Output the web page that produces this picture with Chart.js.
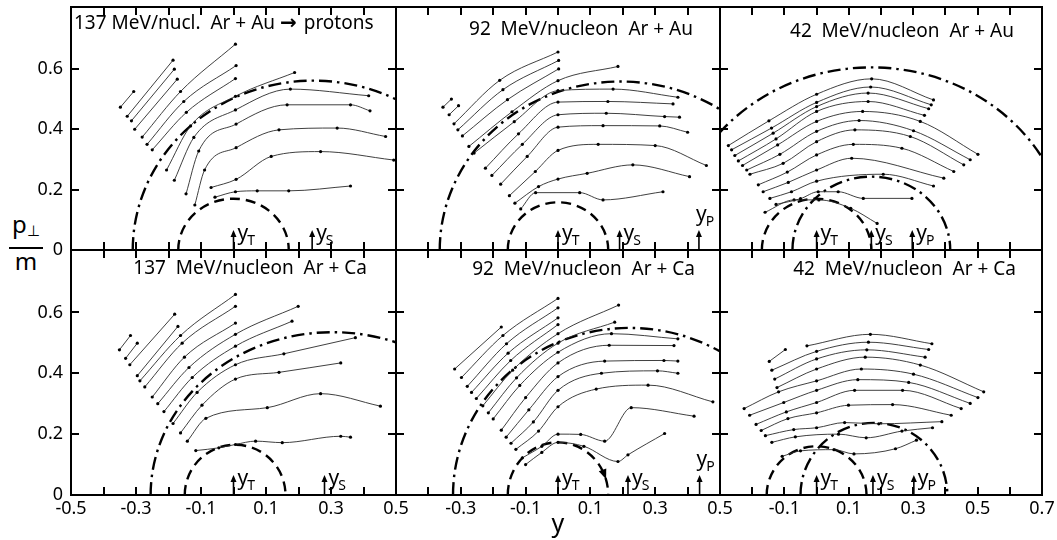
<!DOCTYPE html>
<html>
<head>
<meta charset="utf-8">
<script src="https://cdn.jsdelivr.net/npm/chart.js"></script>
<style>
  body { margin: 0; background: #fff; }
  #fig { position: relative; width: 1057px; height: 540px; overflow: hidden; background: #fff; font-family: "Noto Sans", sans-serif; }
  #fig canvas { position: absolute; }
  .frac { position: absolute; left: 9px; top: 212px; width: 34px; text-align: center; color: #000; font-size: 24px; line-height: 24px; }
  .frac .bar { height: 2px; background: #000; margin: 5px 0 0 0; }
  .frac sub { font-size: 15px; vertical-align: -3px; }
</style>
</head>
<body>
<div id="fig">
  <div class="frac"><div>p<sub>&#x22A5;</sub></div><div class="bar"></div><div>m</div></div>
</div>
<script>
// rapidity range of each column and transverse-momentum range of every panel
const yRanges = [[-0.5, 0.5], [-0.5, 0.5], [-0.3, 0.7]];
const ptMax = 0.805;

const ptTicks = [0, 0.2, 0.4, 0.6];
const yLabelTicks = [
  [-0.5, -0.3, -0.1, 0.1, 0.3, 0.5],
  [-0.3, -0.1, 0.1, 0.3, 0.5],
  [-0.1, 0.1, 0.3, 0.5, 0.7]
];
// minor marks every 0.1 in rapidity
const yMarkTicks = [
  [-0.4, -0.3, -0.2, -0.1, 0, 0.1, 0.2, 0.3, 0.4],
  [-0.4, -0.3, -0.2, -0.1, 0, 0.1, 0.2, 0.3, 0.4],
  [-0.2, -0.1, 0, 0.1, 0.2, 0.3, 0.4, 0.5, 0.6]
];

// titles, split where the reaction arrow goes
const panelTitles = [
  ['137 MeV/nucl.  Ar + Au ', 'protons'],
  ['92  MeV/nucleon  Ar + Au'],
  ['42  MeV/nucleon  Ar + Au'],
  ['137  MeV/nucleon  Ar + Ca'],
  ['92  MeV/nucleon  Ar + Ca'],
  ['42  MeV/nucleon  Ar + Ca']
];

// rapidities of target, source and projectile markers
const yTarget = [0, 0, 0, 0, 0, 0];
const ySource = [0.242, 0.19, 0.17, 0.28, 0.216, 0.175];
const yProjectile = [null, 0.435, 0.297, null, 0.437, 0.302];

// arcs of constant velocity: centre rapidity, half width in y, height in pt/m
const sourceArcs = [
  { cx: 0.246, a: 0.556, b: 0.561 },
  { cx: 0.193, a: 0.558, b: 0.558 },
  { cx: 0.17, a: 0.615, b: 0.605 },
  { cx: 0.305, a: 0.56, b: 0.535 },
  { cx: 0.221, a: 0.545, b: 0.549 },
  null
];
const projectileArcs = [null, null, { cx: 0.17, a: 0.245, b: 0.243 }, null, null, { cx: 0.178, a: 0.228, b: 0.237 }];
const targetArcs = [
  { cx: 0, a: 0.17, b: 0.17 },
  { cx: 0, a: 0.155, b: 0.158 },
  { cx: 0, a: 0.17, b: 0.17 },
  { cx: 0.005, a: 0.155, b: 0.165 },
  { cx: 0, a: 0.155, b: 0.173, arrowAt: 0.144 },
  { cx: 0, a: 0.155, b: 0.16 }
];

// contours of constant invariant cross section, points as [y, pt/m]
const arAu137 = [
  [[-0.348, 0.473], [-0.307, 0.525]],
  [[-0.327, 0.443], [-0.186, 0.629]],
  [[-0.314, 0.428], [-0.182, 0.599]],
  [[-0.304, 0.400], [-0.173, 0.566]],
  [[-0.281, 0.374], [-0.163, 0.525], [0.006, 0.682]],
  [[-0.266, 0.350], [-0.153, 0.492], [0.008, 0.611]],
  [[-0.250, 0.332], [-0.145, 0.456], [0.006, 0.568]],
  [[-0.206, 0.265], [-0.132, 0.411], [0.006, 0.509], [0.188, 0.588]],
  [[-0.182, 0.231], [-0.122, 0.373], [0.006, 0.464], [0.175, 0.533], [0.416, 0.511]],
  [[-0.146, 0.186], [-0.107, 0.328], [0.008, 0.417], [0.165, 0.481], [0.36, 0.481], [0.42, 0.461]],
  [[-0.119, 0.149], [-0.089, 0.265], [0.008, 0.339], [0.140, 0.398], [0.319, 0.404], [0.468, 0.376]],
  [[-0.069, 0.207], [0.008, 0.234], [0.116, 0.310], [0.268, 0.326], [0.493, 0.298]],
  [[-0.057, 0.175], [0.006, 0.193], [0.073, 0.196], [0.170, 0.196], [0.36, 0.212]]
];

const arAu92 = [
  [[-0.355, 0.473], [-0.329, 0.50]],
  [[-0.336, 0.448], [-0.307, 0.478]],
  [[-0.321, 0.418], [-0.18, 0.562], [0, 0.656]],
  [[-0.309, 0.398], [-0.17, 0.531], [0.002, 0.628]],
  [[-0.295, 0.378], [-0.156, 0.498], [0.002, 0.600]],
  [[-0.275, 0.343], [-0.142, 0.458], [0, 0.561], [0.185, 0.608]],
  [[-0.259, 0.321], [-0.135, 0.425], [0, 0.528], [0.17, 0.533], [0.37, 0.506]],
  [[-0.224, 0.271], [-0.122, 0.385], [0, 0.49], [0.154, 0.492], [0.355, 0.484]],
  [[-0.204, 0.247], [-0.11, 0.35], [0, 0.448], [0.149, 0.453], [0.329, 0.442], [0.375, 0.44]],
  [[-0.177, 0.218], [-0.095, 0.31], [0, 0.407], [0.139, 0.412], [0.314, 0.411], [0.40, 0.39]],
  [[-0.150, 0.180], [-0.07, 0.26], [0, 0.33], [0.124, 0.35], [0.30, 0.346], [0.458, 0.28]],
  [[-0.133, 0.155], [-0.06, 0.21], [0, 0.235], [0.09, 0.254], [0.231, 0.282], [0.406, 0.243]],
  [[-0.115, 0.136], [-0.069, 0.19], [0.067, 0.19], [0.139, 0.166], [0.324, 0.193]]
];

const arAu42 = [
  [[-0.274, 0.346], [-0.148, 0.428], [0, 0.516], [0.171, 0.567], [0.363, 0.497]],
  [[-0.264, 0.332], [-0.14, 0.404], [0, 0.489], [0.168, 0.54], [0.356, 0.481]],
  [[-0.254, 0.313], [-0.135, 0.387], [0, 0.475], [0.16, 0.52], [0.348, 0.468]],
  [[-0.243, 0.295], [-0.126, 0.368], [0, 0.459], [0.16, 0.492], [0.335, 0.446]],
  [[-0.23, 0.28], [-0.121, 0.348], [0, 0.426], [0.143, 0.459], [0.322, 0.426], [0.501, 0.317]],
  [[-0.217, 0.265], [-0.114, 0.317], [0, 0.393], [0.132, 0.429], [0.301, 0.395], [0.477, 0.299]],
  [[-0.207, 0.251], [-0.104, 0.287], [0, 0.359], [0.119, 0.398], [0.291, 0.376], [0.457, 0.282]],
  [[-0.181, 0.216], [-0.091, 0.258], [0, 0.315], [0.114, 0.350], [0.265, 0.337], [0.426, 0.26]],
  [[-0.166, 0.193], [-0.088, 0.224], [0, 0.265], [0.109, 0.304], [0.395, 0.238]],
  [[-0.145, 0.171], [-0.078, 0.193], [0, 0.228], [0.207, 0.251], [0.363, 0.212]],
  [[-0.126, 0.151], [-0.05, 0.17], [0.005, 0.193], [0.067, 0.193], [0.145, 0.171], [0.296, 0.171]],
  [[-0.16, 0.125], [-0.07, 0.166], [0.007, 0.166], [0.106, 0.138], [0.188, 0.088]]
];

const arCa137 = [
  [[-0.351, 0.477], [-0.317, 0.524]],
  [[-0.332, 0.449], [-0.296, 0.499]],
  [[-0.319, 0.428], [-0.181, 0.594]],
  [[-0.296, 0.392], [-0.171, 0.554]],
  [[-0.288, 0.375], [-0.163, 0.524], [0.006, 0.659]],
  [[-0.273, 0.355], [-0.158, 0.499], [0.006, 0.620]],
  [[-0.25, 0.322], [-0.151, 0.453], [0.006, 0.565]],
  [[-0.233, 0.300], [-0.137, 0.419], [0.006, 0.528], [0.199, 0.620]],
  [[-0.214, 0.274], [-0.127, 0.386], [0.006, 0.489], [0.18, 0.571]],
  [[-0.186, 0.235], [-0.112, 0.337], [0.006, 0.428], [0.155, 0.464], [0.375, 0.517]],
  [[-0.163, 0.204], [-0.097, 0.295], [0.006, 0.381], [0.140, 0.403], [0.33, 0.434]],
  [[-0.142, 0.177], [-0.085, 0.252], [0.104, 0.287], [0.268, 0.333], [0.452, 0.292]],
  [[-0.116, 0.146], [-0.045, 0.155], [0.006, 0.166], [0.068, 0.177], [0.15, 0.172], [0.33, 0.193], [0.36, 0.19]]
];

const arCa92 = [
  [[-0.319, 0.414], [-0.175, 0.552]],
  [[-0.298, 0.386], [-0.17, 0.524], [0, 0.646]],
  [[-0.28, 0.357], [-0.159, 0.497], [0, 0.615]],
  [[-0.267, 0.337], [-0.154, 0.466], [0, 0.582]],
  [[-0.252, 0.317], [-0.146, 0.442], [0, 0.56]],
  [[-0.232, 0.293], [-0.14, 0.41], [0, 0.53], [0.187, 0.624]],
  [[-0.215, 0.27], [-0.128, 0.385], [0, 0.499], [0.175, 0.568]],
  [[-0.2, 0.25], [-0.118, 0.36], [0, 0.469], [0.165, 0.53], [0.37, 0.513]],
  [[-0.175, 0.213], [-0.1, 0.32], [0, 0.434], [0.158, 0.492], [0.358, 0.491]],
  [[-0.16, 0.19], [-0.09, 0.28], [0, 0.389], [0.144, 0.44], [0.327, 0.442], [0.37, 0.44]],
  [[-0.145, 0.17], [-0.076, 0.24], [0, 0.344], [0.134, 0.40], [0.307, 0.408], [0.37, 0.40]],
  [[-0.13, 0.15], [-0.06, 0.21], [0, 0.29], [0.118, 0.348], [0.278, 0.361], [0.478, 0.306]],
  [[-0.11, 0.122], [-0.05, 0.16], [0, 0.2], [0.07, 0.199], [0.144, 0.177], [0.226, 0.287], [0.42, 0.259]],
  [[-0.1, 0.1], [-0.05, 0.14], [0, 0.173], [0.08, 0.16], [0.185, 0.11], [0.216, 0.132], [0.329, 0.202]]
];

const arCa42 = [
  [[-0.147, 0.439], [-0.097, 0.478]],
  [[-0.03, 0.49], [0.167, 0.528], [0.358, 0.497]],
  [[-0.139, 0.41], [0, 0.472], [0.161, 0.502], [0.348, 0.478]],
  [[-0.13, 0.381], [0, 0.447], [0.156, 0.477], [0.337, 0.453]],
  [[-0.123, 0.353], [0, 0.414], [0.151, 0.453], [0.322, 0.427], [0.519, 0.339]],
  [[-0.225, 0.284], [-0.118, 0.339], [0, 0.375], [0.139, 0.414], [0.301, 0.397], [0.501, 0.32]],
  [[-0.208, 0.262], [-0.102, 0.304], [0, 0.344], [0.128, 0.379], [0.286, 0.37], [0.477, 0.301]],
  [[-0.188, 0.232], [-0.094, 0.273], [0, 0.304], [0.118, 0.344], [0.267, 0.344], [0.449, 0.284]],
  [[-0.172, 0.212], [-0.089, 0.251], [0, 0.27], [0.099, 0.295], [0.236, 0.297], [0.418, 0.262]],
  [[-0.159, 0.195], [-0.071, 0.215], [0, 0.221], [0.087, 0.238], [0.193, 0.234], [0.389, 0.241]],
  [[-0.139, 0.173], [-0.066, 0.191], [0.068, 0.2], [0.154, 0.188], [0.265, 0.21], [0.36, 0.221]],
  [[-0.107, 0.127], [-0.05, 0.145], [0.054, 0.149], [0.116, 0.135], [0.245, 0.152], [0.31, 0.18]]
];

const panelCurves = [arAu137, arAu92, arAu42, arCa137, arCa92, arCa42];

// page layout: plot-area edges in pixels
const colEdges = [71, 396, 720, 1042];
const rowEdges = [7, 250, 495];
const titleAnchor = [
  { x: 3, align: 'left', base: 22 },
  { x: -27, align: 'right', base: 28 },
  { x: -28, align: 'right', base: 30 },
  { x: -29, align: 'right', base: 24 },
  { x: -25, align: 'right', base: 25 },
  { x: -26, align: 'right', base: 25 }
];

const FONT = '"Noto Sans", sans-serif';
Chart.defaults.font.family = FONT;
Chart.defaults.color = '#000';

function fmt(v) {
  const r = Math.round(v * 10) / 10;
  return r === 0 ? '0' : r.toFixed(1);
}

const panelDecor = {
  id: 'panelDecor',
  beforeDatasetsDraw(chart, args, opts) {
    const i = opts.panel;
    const { ctx, chartArea: ca } = chart;
    const xs = chart.scales.x, ys = chart.scales.y;
    ctx.save();
    ctx.beginPath();
    ctx.rect(ca.left, ca.top, ca.width, ca.height);
    ctx.clip();
    ctx.strokeStyle = '#000';
    ctx.fillStyle = '#000';
    ctx.lineCap = 'butt';

    const arc = (c, dash, width) => {
      if (!c) return;
      const cx = xs.getPixelForValue(c.cx);
      const cy = ys.getPixelForValue(0);
      const rx = xs.getPixelForValue(c.cx + c.a) - cx;
      const ry = cy - ys.getPixelForValue(c.b);
      ctx.setLineDash(dash);
      ctx.lineWidth = width;
      ctx.beginPath();
      ctx.ellipse(cx, cy, rx, ry, 0, Math.PI, 2 * Math.PI);
      ctx.stroke();
      if (c.arrowAt !== undefined) {
        const t = Math.acos((c.arrowAt - c.cx) / c.a);
        const px = cx + rx * Math.cos(t), py = cy - ry * Math.sin(t);
        const dx = rx * Math.sin(t), dy = ry * Math.cos(t);
        const len = Math.hypot(dx, dy), ux = dx / len, uy = dy / len;
        ctx.setLineDash([]);
        ctx.beginPath();
        ctx.moveTo(px + ux * 4, py + uy * 4);
        ctx.lineTo(px - ux * 6 - uy * 4, py - uy * 6 + ux * 4);
        ctx.lineTo(px - ux * 6 + uy * 4, py - uy * 6 - ux * 4);
        ctx.closePath();
        ctx.fill();
      }
    };
    arc(sourceArcs[i], [13, 5, 2.5, 5], 2.4);
    arc(projectileArcs[i], [13, 5, 2.5, 5], 2.4);
    arc(targetArcs[i], [10, 6], 2.4);
    ctx.restore();
  },
  afterDraw(chart, args, opts) {
    const i = opts.panel;
    const col = i % 3;
    const { ctx, chartArea: ca } = chart;
    const xs = chart.scales.x, ys = chart.scales.y;
    ctx.save();
    ctx.strokeStyle = '#000';
    ctx.fillStyle = '#000';
    ctx.setLineDash([]);
    ctx.lineCap = 'butt';

    // frame and inward tick marks as one path
    const t0 = Math.round(ca.top), b0 = Math.round(ca.bottom);
    const l0 = Math.round(ca.left), r0 = Math.round(ca.right);
    ctx.lineWidth = 2;
    ctx.beginPath();
    ctx.rect(l0, t0, r0 - l0, b0 - t0);
    yMarkTicks[col].forEach(v => {
      const px = Math.round(xs.getPixelForValue(v));
      ctx.moveTo(px, t0); ctx.lineTo(px, t0 + 8);
      ctx.moveTo(px, b0); ctx.lineTo(px, b0 - 8);
    });
    ptTicks.filter(v => v > 0).forEach(v => {
      const py = Math.round(ys.getPixelForValue(v));
      ctx.moveTo(l0, py); ctx.lineTo(l0 + 8, py);
      ctx.moveTo(r0, py); ctx.lineTo(r0 - 8, py);
    });
    ctx.stroke();

    // rapidity markers
    const marker = (v, sub, above) => {
      if (v === null || v === undefined) return;
      const px = xs.getPixelForValue(v);
      const base = ys.getPixelForValue(0);
      const tip = ys.getPixelForValue(0.066);
      ctx.lineWidth = 1.6;
      ctx.beginPath();
      ctx.moveTo(px, base); ctx.lineTo(px, tip + 4);
      ctx.stroke();
      ctx.beginPath();
      ctx.moveTo(px, tip); ctx.lineTo(px - 3, tip + 7); ctx.lineTo(px + 3, tip + 7);
      ctx.closePath(); ctx.fill();
      const lx = above ? px - 3 : px + 4;
      const ly = above ? tip - 9 : tip + 10;
      ctx.textAlign = 'left';
      ctx.textBaseline = 'alphabetic';
      ctx.font = '21px ' + FONT;
      ctx.fillText('y', lx, ly);
      const w = ctx.measureText('y').width;
      ctx.font = '14px ' + FONT;
      ctx.fillText(sub, lx + w - 1, ly + 5);
    };
    marker(yTarget[i], 'T', false);
    marker(ySource[i], 'S', false);
    marker(yProjectile[i], 'P', i === 1 || i === 4);

    // panel title; the first one carries a reaction arrow between its parts
    const t = titleAnchor[i];
    const parts = panelTitles[i];
    const baseY = ca.top + t.base;
    ctx.textBaseline = 'alphabetic';
    ctx.font = '19px ' + FONT;
    if (parts.length === 1) {
      ctx.textAlign = t.align;
      ctx.fillText(parts[0], t.align === 'left' ? ca.left + t.x : ca.right + t.x, baseY);
    } else {
      ctx.textAlign = 'left';
      let x = ca.left + t.x;
      ctx.fillText(parts[0], x, baseY);
      x += ctx.measureText(parts[0]).width;
      ctx.font = 'bold 20px "DejaVu Sans", sans-serif';
      ctx.fillText('\u2192', x, baseY);
      x += ctx.measureText('\u2192 ').width;
      ctx.font = '19px ' + FONT;
      ctx.fillText(parts[1], x, baseY);
    }
    ctx.restore();
  }
};

const fig = document.getElementById('fig');

function makePanel(i) {
  const col = i % 3, row = Math.floor(i / 3);
  const L = colEdges[col], R = colEdges[col + 1];
  const T = rowEdges[row], B = rowEdges[row + 1];
  const showY = col === 0, showX = row === 1;
  const ml = showY ? 70 : 24, mr = 24, mt = 26, mb = showX ? 45 : 26;

  const canvas = document.createElement('canvas');
  canvas.width = R - L + ml + mr;
  canvas.height = B - T + mt + mb;
  canvas.style.left = (L - ml) + 'px';
  canvas.style.top = (T - mt) + 'px';
  fig.appendChild(canvas);

  const datasets = panelCurves[i].map(curve => ({
    data: curve.map(([x, y]) => ({ x, y })),
    showLine: true,
    cubicInterpolationMode: 'monotone',
    borderColor: '#2a2a2a',
    borderWidth: 0.9,
    pointRadius: 1.6,
    pointBackgroundColor: '#000',
    pointBorderWidth: 0
  }));

  // only the outer axes carry labels; inner ones are plain hidden scales
  const xScale = { type: 'linear', min: yRanges[col][0], max: yRanges[col][1], display: false };
  if (showX) {
    Object.assign(xScale, {
      display: true,
      grid: { display: false, drawTicks: false },
      border: { display: false },
      afterBuildTicks: s => { s.ticks = yLabelTicks[col].map(v => ({ value: v })); },
      afterFit: s => { s.height = mb; },
      ticks: { autoSkip: false, maxRotation: 0, padding: 3, font: { size: 18 }, callback: v => fmt(v) },
      title: { display: i === 4, text: 'y', font: { size: 25 }, padding: { top: 0, bottom: 0 } }
    });
  }
  const yScale = { type: 'linear', min: 0, max: ptMax, display: false };
  if (showY) {
    Object.assign(yScale, {
      display: true,
      grid: { display: false, drawTicks: false },
      border: { display: false },
      afterBuildTicks: s => { s.ticks = ptTicks.map(v => ({ value: v })); },
      afterFit: s => { s.width = ml; },
      ticks: { padding: 8, font: { size: 18 }, callback: v => fmt(v) }
    });
  }

  new Chart(canvas, {
    type: 'scatter',
    data: { datasets },
    options: {
      responsive: false,
      animation: false,
      devicePixelRatio: 1,
      events: [],
      layout: { padding: { left: showY ? 0 : ml, right: mr, top: mt, bottom: showX ? 0 : mb } },
      plugins: {
        legend: { display: false },
        tooltip: { enabled: false },
        panelDecor: { panel: i }
      },
      scales: { x: xScale, y: yScale }
    },
    plugins: [panelDecor]
  });
}

for (let i = 0; i < 6; i++) makePanel(i);
</script>
</body>
</html>
